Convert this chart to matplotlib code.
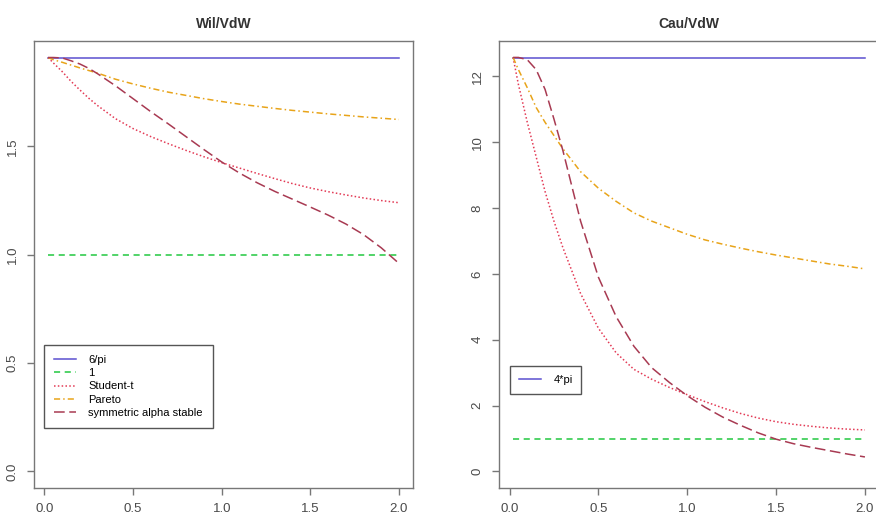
import matplotlib
matplotlib.use("Agg")
import matplotlib.pyplot as plt
import numpy as np

plt.rcParams['font.family'] = ['Liberation Sans', 'DejaVu Sans']

# grid of alpha values on which the ratios were evaluated
x = [0.02, 0.05, 0.1, 0.15, 0.2, 0.25, 0.3, 0.4, 0.5, 0.6, 0.7, 0.8,
     0.9, 1.0, 1.1, 1.2, 1.3, 1.4, 1.5, 1.6, 1.7, 1.8, 1.9, 2.0]

# Wil/VdW panel
wil_student = [1.91, 1.885, 1.845, 1.80, 1.76, 1.722, 1.688, 1.628, 1.582, 1.545, 1.512, 1.481,
               1.452, 1.425, 1.40, 1.375, 1.351, 1.328, 1.308, 1.291, 1.276, 1.262, 1.25, 1.24]
wil_pareto = [1.91, 1.90, 1.888, 1.875, 1.862, 1.85, 1.838, 1.81, 1.788, 1.768, 1.75, 1.735,
              1.72, 1.707, 1.695, 1.685, 1.675, 1.666, 1.658, 1.65, 1.643, 1.636, 1.63, 1.624]
wil_stable = [1.91, 1.91, 1.908, 1.895, 1.88, 1.86, 1.835, 1.78, 1.72, 1.66, 1.603, 1.544,
              1.485, 1.428, 1.377, 1.332, 1.292, 1.256, 1.22, 1.183, 1.142, 1.093, 1.032, 0.96]

# Cau/VdW panel
cau_student = [12.57, 11.75, 10.6, 9.55, 8.5, 7.6, 6.8, 5.4, 4.35, 3.6, 3.1, 2.8,
               2.55, 2.33, 2.12, 1.93, 1.76, 1.62, 1.51, 1.43, 1.37, 1.32, 1.285, 1.26]
cau_pareto = [12.57, 12.2, 11.65, 11.05, 10.6, 10.2, 9.8, 9.1, 8.6, 8.2, 7.85, 7.6,
              7.4, 7.2, 7.03, 6.9, 6.78, 6.67, 6.57, 6.48, 6.39, 6.3, 6.23, 6.15]
cau_stable = [12.57, 12.57, 12.5, 12.2, 11.6, 10.7, 9.75, 7.6, 5.9, 4.7, 3.8, 3.15,
              2.70, 2.30, 1.95, 1.65, 1.4, 1.17, 0.98, 0.84, 0.73, 0.63, 0.53, 0.44]

c_blue = '#5b50d0'
c_green = '#22c840'
c_red = '#e33a55'
c_orange = '#e8a41a'
c_brown = '#a83a52'
grey = '#777777'
lw = 1.1

fig = plt.figure(figsize=(8.76, 5.2), dpi=100)
ax1 = fig.add_axes([34 / 876, 32 / 520, 379 / 876, 447 / 520])
ax2 = fig.add_axes([499 / 876, 32 / 520, 380 / 876, 447 / 520])

xs = np.array(x)


def style(ax, ylo, yhi, yticks, ylabels, title):
    pad_x = (2.0 - 0.02) * 0.04
    ax.set_xlim(0.02 - pad_x, 2.0 + pad_x)
    pad_y = (yhi - ylo) * 0.04
    ax.set_ylim(ylo - pad_y, yhi + pad_y)
    ax.set_xticks([0.0, 0.5, 1.0, 1.5, 2.0])
    ax.set_xticklabels(['0.0', '0.5', '1.0', '1.5', '2.0'])
    ax.set_yticks(yticks)
    ax.set_yticklabels(ylabels, rotation=90, va='center')
    for sp in ax.spines.values():
        sp.set_color(grey)
        sp.set_linewidth(1.0)
    ax.tick_params(colors=grey, labelcolor='#4a4a4a', labelsize=9.5,
                   direction='out', length=5, width=1.0, pad=6)
    ax.set_title(title, fontsize=10, fontweight='bold', color='#333333', pad=9)


# left panel
ax1.plot(xs, np.full(len(xs), 6 / np.pi), color=c_blue, lw=lw, label='6/pi')
ax1.plot(xs, np.ones(len(xs)), color=c_green, lw=lw, ls=(0, (4, 3)), label='1')
ax1.plot(xs, wil_student, color=c_red, lw=lw, ls=(0, (1, 1.5)), label='Student-t')
ax1.plot(xs, wil_pareto, color=c_orange, lw=lw, ls=(0, (4, 2, 1, 2)), label='Pareto')
ax1.plot(xs, wil_stable, color=c_brown, lw=lw, ls=(0, (7, 3)), label='symmetric alpha stable')
style(ax1, 0, 6 / np.pi, [0.0, 0.5, 1.0, 1.5], ['0.0', '0.5', '1.0', '1.5'], 'Wil/VdW')
leg = ax1.legend(loc='lower left', bbox_to_anchor=(0.026, 0.134), borderaxespad=0,
                 fontsize=8, fancybox=False, framealpha=1, edgecolor='#555555',
                 handlelength=2.0, labelspacing=0.3, borderpad=0.9,
                 handletextpad=1.1)
leg.get_frame().set_linewidth(1.0)

# right panel
ax2.plot(xs, np.full(len(xs), 4 * np.pi), color=c_blue, lw=lw, label='4*pi')
ax2.plot(xs, np.ones(len(xs)), color=c_green, lw=lw, ls=(0, (4, 3)))
ax2.plot(xs, cau_student, color=c_red, lw=lw, ls=(0, (1, 1.5)))
ax2.plot(xs, cau_pareto, color=c_orange, lw=lw, ls=(0, (4, 2, 1, 2)))
ax2.plot(xs, cau_stable, color=c_brown, lw=lw, ls=(0, (7, 3)))
style(ax2, 0, 4 * np.pi, [0, 2, 4, 6, 8, 10, 12], ['0', '2', '4', '6', '8', '10', '12'], 'Cau/VdW')
leg2 = ax2.legend(loc='lower left', bbox_to_anchor=(0.029, 0.21), borderaxespad=0,
                  fontsize=8, fancybox=False, framealpha=1, edgecolor='#555555',
                  handlelength=2.0, borderpad=0.8, handletextpad=1.1)
leg2.get_frame().set_linewidth(1.0)

fig.savefig('out.png', dpi=100)
